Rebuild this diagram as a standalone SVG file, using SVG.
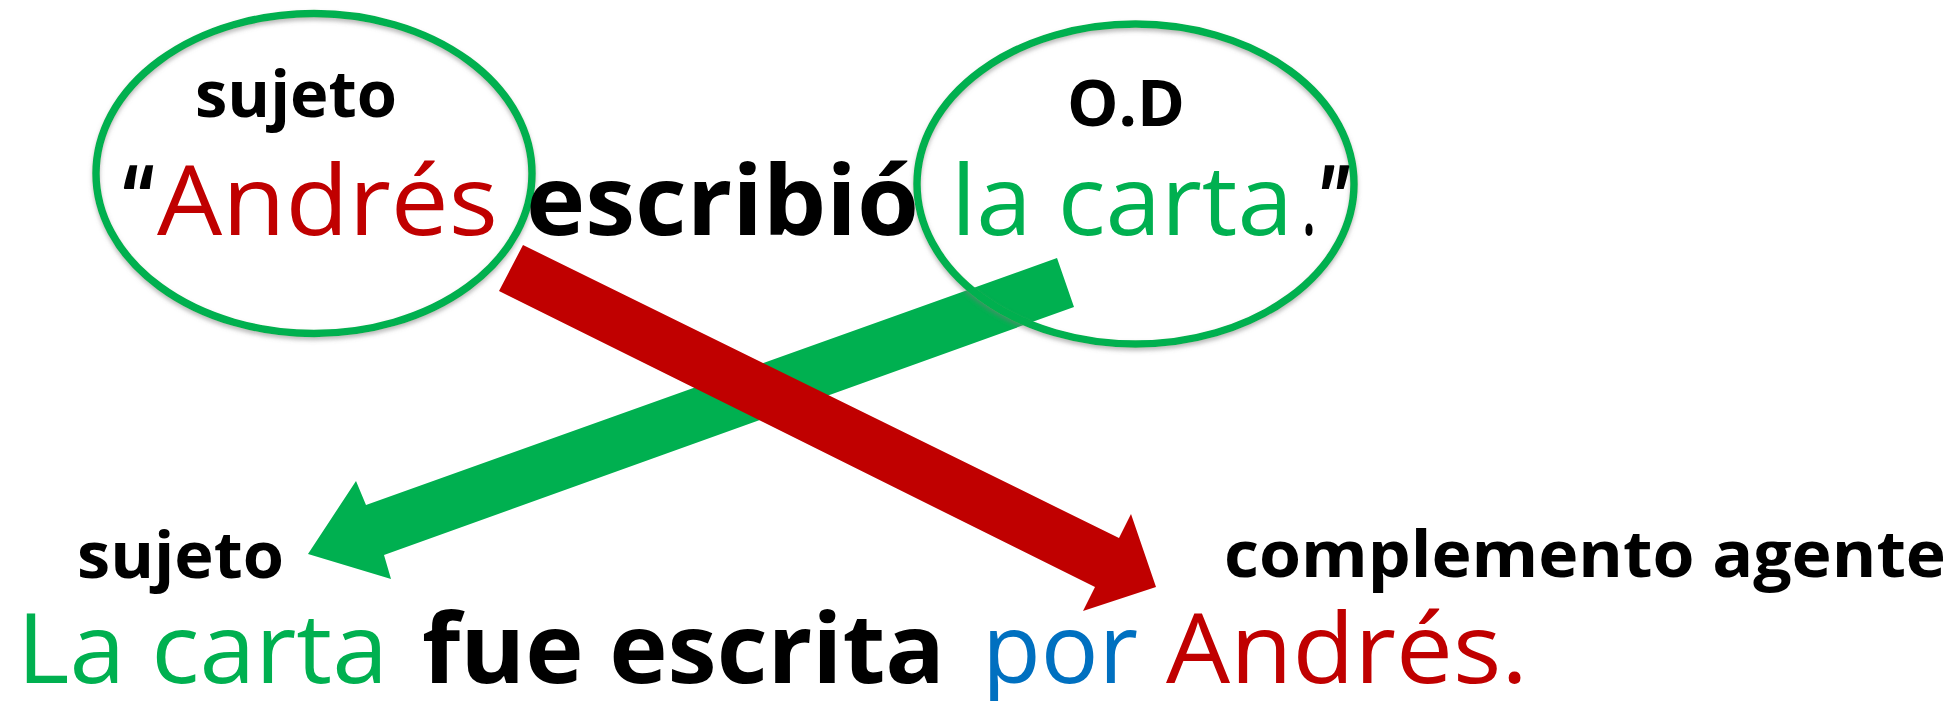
<svg xmlns="http://www.w3.org/2000/svg" width="1954" height="701" viewBox="0 0 1954 701">
<defs>
<style>
.t{font-family:"Open Sans","Liberation Sans",sans-serif;}
.b{font-weight:bold;fill:#000;}
.r{font-weight:normal;}
.lbl{font-size:64px;}
.big{font-size:97px;}
.oval{fill:none;stroke:#00B050;stroke-width:7.5;}
</style>
<filter id="sh" x="-10%" y="-10%" width="120%" height="130%">
<feDropShadow dx="0" dy="3" stdDeviation="2" flood-color="#777" flood-opacity="0.5"/>
</filter>
</defs>
<rect width="1954" height="701" fill="#fff"/>
<g id="connectors">
<polygon id="arrow-green" fill="#00B050" points="1057,258 1074,307 384,555 391,579 308,554 356,481 366,505"/>
<polygon id="arrow-red" fill="#C00000" points="523,245 1119,538 1131,514 1156,587 1083,611 1095,587 499,291"/>
</g>
<g id="node-sujeto-top">
<ellipse class="oval" cx="314" cy="173.5" rx="218" ry="160" filter="url(#sh)"/>
<text class="t b lbl" x="195" y="117" textLength="202" lengthAdjust="spacingAndGlyphs">sujeto</text>
</g>
<g id="node-od">
<ellipse class="oval" cx="1135.5" cy="184" rx="218.5" ry="160" filter="url(#sh)"/>
<text class="t b lbl" x="1067" y="126" textLength="118" lengthAdjust="spacingAndGlyphs">O.D</text>
</g>
<g id="sentence-active">
<text class="t b big" x="123" y="235" textLength="31" lengthAdjust="spacingAndGlyphs">“</text>
<text class="t r big" x="157" y="235" fill="#C00000" textLength="341" lengthAdjust="spacingAndGlyphs">Andrés</text>
<text class="t b big" x="526" y="235" textLength="393" lengthAdjust="spacingAndGlyphs">escribió</text>
<text class="t r big" x="951" y="235" fill="#00B050" textLength="342" lengthAdjust="spacingAndGlyphs">la carta</text>
<text class="t r big" x="1301" y="235" fill="#000" textLength="16" lengthAdjust="spacingAndGlyphs">.</text>
<text class="t b big" x="1321" y="235" textLength="29" lengthAdjust="spacingAndGlyphs">”</text>
</g>
<g id="node-sujeto-bottom">
<text class="t b lbl" x="77" y="578" textLength="207" lengthAdjust="spacingAndGlyphs">sujeto</text>
</g>
<g id="node-complemento">
<text class="t b lbl" x="1224" y="577" textLength="722" lengthAdjust="spacingAndGlyphs">complemento agente</text>
</g>
<g id="sentence-passive">
<text class="t r big" x="17" y="683" fill="#00B050" textLength="371" lengthAdjust="spacingAndGlyphs">La carta</text>
<text class="t b big" x="422" y="683" textLength="523" lengthAdjust="spacingAndGlyphs">fue escrita</text>
<text class="t r big" x="982" y="683" fill="#0070C0" textLength="156" lengthAdjust="spacingAndGlyphs">por</text>
<text class="t r big" x="1166" y="683" fill="#C00000" textLength="362" lengthAdjust="spacingAndGlyphs">Andrés.</text>
</g>
</svg>
